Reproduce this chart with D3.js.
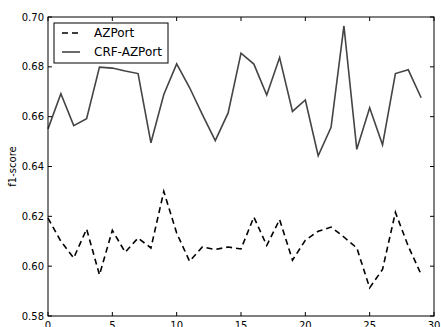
<!DOCTYPE html>
<html>
<head>
<meta charset="UTF-8">
<script src="https://d3js.org/d3.v7.min.js"></script>
<style>
  body { margin: 0; background: #fff; }
  svg { font-family: "DejaVu Sans", sans-serif; }
</style>
</head>
<body>
<div id="chart"></div>
<script>
// datos
const runs = d3.range(0, 30);
const azport = [0.6193, 0.6100, 0.6033, 0.6149, 0.5965, 0.6144, 0.6056, 0.6113, 0.6073, 0.6300,
                0.6133, 0.6020, 0.6077, 0.6067, 0.6077, 0.6069, 0.6197, 0.6083, 0.6187, 0.6024,
                0.6104, 0.6140, 0.6157, 0.6117, 0.6073, 0.5913, 0.5987, 0.6216, 0.6080, 0.5967];
const crfAzport = [0.6551, 0.6692, 0.6564, 0.6592, 0.6799, 0.6795, 0.6783, 0.6773, 0.6495, 0.6689,
                   0.6812, 0.6717, 0.6608, 0.6504, 0.6615, 0.6855, 0.6811, 0.6687, 0.6837, 0.6621,
                   0.6667, 0.6443, 0.6557, 0.6964, 0.6469, 0.6636, 0.6487, 0.6773, 0.6788, 0.6676];
const xTicks = [0, 5, 10, 15, 20, 25, 30];
const yTicks = [0.58, 0.60, 0.62, 0.64, 0.66, 0.68, 0.70];

const W = 441, H = 327;
const margin = {top: 17, right: 7, bottom: 11, left: 48};
const width = W - margin.left - margin.right;
const height = H - margin.top - margin.bottom;

const svg = d3.select("#chart").append("svg")
    .attr("width", W)
    .attr("height", H);

const g = svg.append("g")
    .attr("transform", `translate(${margin.left},${margin.top})`);

const x = d3.scaleLinear().domain([0, 30]).range([0, width]);
const y = d3.scaleLinear().domain([0.58, 0.70]).range([height, 0]);

// líneas
const line = d3.line()
    .x((d, i) => x(runs[i]))
    .y(d => y(d));

g.append("path")
    .datum(crfAzport)
    .attr("fill", "none")
    .attr("stroke", "#444444")
    .attr("stroke-width", 1.6)
    .attr("d", line);

g.append("path")
    .datum(azport)
    .attr("fill", "none")
    .attr("stroke", "black")
    .attr("stroke-width", 1.6)
    .attr("stroke-dasharray", "6 4")
    .attr("d", line);

// ejes (ticks hacia dentro, en los cuatro lados)
const tickLen = 4;
const ticks = g.append("g").attr("stroke", "black").attr("stroke-width", 1);
xTicks.forEach(t => {
    ticks.append("line").attr("x1", x(t)).attr("x2", x(t)).attr("y1", height).attr("y2", height - tickLen);
    ticks.append("line").attr("x1", x(t)).attr("x2", x(t)).attr("y1", 0).attr("y2", tickLen);
});
yTicks.forEach(t => {
    ticks.append("line").attr("x1", 0).attr("x2", tickLen).attr("y1", y(t)).attr("y2", y(t));
    ticks.append("line").attr("x1", width).attr("x2", width - tickLen).attr("y1", y(t)).attr("y2", y(t));
});

g.append("rect")
    .attr("width", width)
    .attr("height", height)
    .attr("fill", "none")
    .attr("stroke", "black")
    .attr("stroke-width", 1);

g.selectAll(".xlab")
    .data(xTicks)
    .enter().append("text")
    .attr("x", d => x(d))
    .attr("y", height + 13)
    .attr("text-anchor", "middle")
    .style("font-size", "10px")
    .text(d => d);

g.selectAll(".ylab")
    .data(yTicks)
    .enter().append("text")
    .attr("x", -4)
    .attr("y", d => y(d))
    .attr("dy", "0.35em")
    .attr("text-anchor", "end")
    .style("font-size", "10px")
    .text(d => d.toFixed(2));

g.append("text")
    .attr("transform", `translate(-32,${height / 2}) rotate(-90)`)
    .attr("text-anchor", "middle")
    .style("font-size", "10px")
    .text("f1-score");

// leyenda
const legend = g.append("g").attr("transform", "translate(6,6)");
legend.append("rect")
    .attr("width", 114)
    .attr("height", 40)
    .attr("fill", "white")
    .attr("stroke", "black")
    .attr("stroke-width", 1);

const entries = [
    {label: "AZPort", color: "black", dash: "6 4"},
    {label: "CRF-AZPort", color: "#444444", dash: null}
];
entries.forEach((e, i) => {
    const yy = 10 + i * 19;
    legend.append("line")
        .attr("x1", 8).attr("x2", 26)
        .attr("y1", yy).attr("y2", yy)
        .attr("stroke", e.color)
        .attr("stroke-width", 1.6)
        .attr("stroke-dasharray", e.dash);
    legend.append("text")
        .attr("x", 40)
        .attr("y", yy)
        .attr("dy", "0.35em")
        .style("font-size", "12px")
        .text(e.label);
});
</script>
</body>
</html>
